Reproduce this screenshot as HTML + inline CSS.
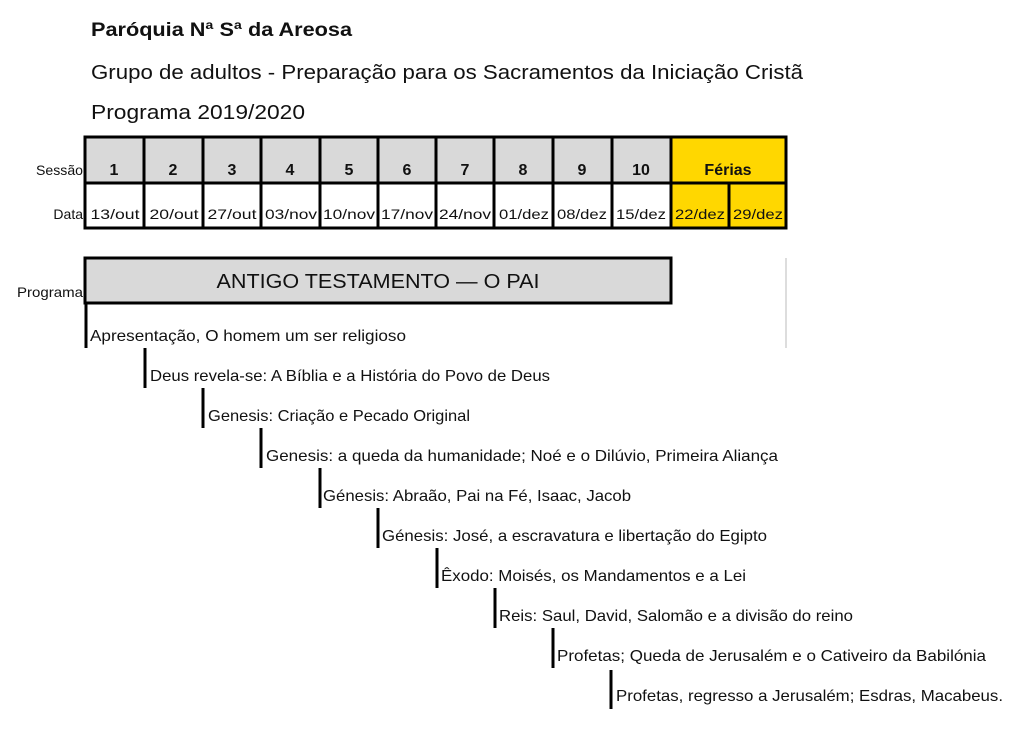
<!DOCTYPE html>
<html><head><meta charset="utf-8"><style>
html,body{margin:0;padding:0;background:#fff;}
svg{display:block;}
text{font-family:"Liberation Sans",sans-serif;fill:#111;}
</style></head><body>
<svg width="1024" height="731" viewBox="0 0 1024 731" xmlns="http://www.w3.org/2000/svg">
<text x="91" y="36" font-size="19" font-weight="bold" textLength="261" lengthAdjust="spacingAndGlyphs">Paróquia Nª Sª da Areosa</text>
<text x="91" y="79" font-size="20" textLength="712" lengthAdjust="spacingAndGlyphs">Grupo de adultos - Preparação para os Sacramentos da Iniciação Cristã</text>
<text x="91" y="119" font-size="20" textLength="214" lengthAdjust="spacingAndGlyphs">Programa 2019/2020</text>

<rect x="85" y="137" width="586" height="46" fill="#d9d9d9"/>
<rect x="671" y="137" width="115" height="91" fill="#ffd700"/>
<g stroke="#000" stroke-width="3" fill="none">
<rect x="85" y="137" width="701" height="91"/>
<line x1="85" y1="183" x2="786" y2="183"/>
<line x1="144" y1="137" x2="144" y2="228"/>
<line x1="203" y1="137" x2="203" y2="228"/>
<line x1="261" y1="137" x2="261" y2="228"/>
<line x1="320" y1="137" x2="320" y2="228"/>
<line x1="378" y1="137" x2="378" y2="228"/>
<line x1="436" y1="137" x2="436" y2="228"/>
<line x1="494" y1="137" x2="494" y2="228"/>
<line x1="553" y1="137" x2="553" y2="228"/>
<line x1="612" y1="137" x2="612" y2="228"/>
<line x1="671" y1="137" x2="671" y2="228"/>
<line x1="729" y1="183" x2="729" y2="228"/>
</g>
<text x="83" y="175" font-size="14" text-anchor="end" textLength="47" lengthAdjust="spacingAndGlyphs">Sessão</text>
<text x="83" y="219" font-size="14" text-anchor="end">Data</text>
<g font-size="16" font-weight="bold" text-anchor="middle">
<text x="114" y="175">1</text><text x="173" y="175">2</text><text x="232" y="175">3</text>
<text x="290" y="175">4</text><text x="349" y="175">5</text><text x="407" y="175">6</text>
<text x="465" y="175">7</text><text x="523" y="175">8</text><text x="582" y="175">9</text>
<text x="641" y="175">10</text><text x="728" y="175">Férias</text>
</g>
<g font-size="14" text-anchor="middle">
<text x="115" y="219" textLength="49" lengthAdjust="spacingAndGlyphs">13/out</text><text x="174" y="219" textLength="49" lengthAdjust="spacingAndGlyphs">20/out</text><text x="232" y="219" textLength="49" lengthAdjust="spacingAndGlyphs">27/out</text>
<text x="291" y="219" textLength="52" lengthAdjust="spacingAndGlyphs">03/nov</text><text x="349" y="219" textLength="52" lengthAdjust="spacingAndGlyphs">10/nov</text><text x="407" y="219" textLength="52" lengthAdjust="spacingAndGlyphs">17/nov</text>
<text x="465" y="219" textLength="52" lengthAdjust="spacingAndGlyphs">24/nov</text><text x="524" y="219" textLength="50" lengthAdjust="spacingAndGlyphs">01/dez</text><text x="582" y="219" textLength="50" lengthAdjust="spacingAndGlyphs">08/dez</text>
<text x="641" y="219" textLength="50" lengthAdjust="spacingAndGlyphs">15/dez</text><text x="700" y="219" textLength="50" lengthAdjust="spacingAndGlyphs">22/dez</text><text x="758" y="219" textLength="50" lengthAdjust="spacingAndGlyphs">29/dez</text>
</g>

<rect x="85" y="258" width="586" height="45" fill="#d9d9d9" stroke="#000" stroke-width="3"/>
<text x="378" y="288" font-size="20" text-anchor="middle" textLength="323" lengthAdjust="spacingAndGlyphs">ANTIGO TESTAMENTO — O  PAI</text>
<text x="83" y="297" font-size="14" text-anchor="end" textLength="66" lengthAdjust="spacingAndGlyphs">Programa</text>
<line x1="786" y1="258" x2="786" y2="348" stroke="#bbb" stroke-width="1"/>

<g stroke="#000" stroke-width="3">
<line x1="86" y1="303" x2="86" y2="348"/>
<line x1="145" y1="348" x2="145" y2="388"/>
<line x1="203" y1="388" x2="203" y2="428"/>
<line x1="261" y1="428" x2="261" y2="468"/>
<line x1="320" y1="468" x2="320" y2="508"/>
<line x1="378" y1="508" x2="378" y2="548"/>
<line x1="437" y1="548" x2="437" y2="588"/>
<line x1="495" y1="588" x2="495" y2="628"/>
<line x1="553" y1="628" x2="553" y2="668"/>
<line x1="611" y1="670" x2="611" y2="709"/>
</g>
<g font-size="16">
<text x="90" y="341" textLength="316" lengthAdjust="spacingAndGlyphs">Apresentação, O homem um ser religioso</text>
<text x="150" y="381" textLength="400" lengthAdjust="spacingAndGlyphs">Deus revela-se: A Bíblia e a História do Povo de Deus</text>
<text x="208" y="421" textLength="262" lengthAdjust="spacingAndGlyphs">Genesis: Criação e Pecado Original</text>
<text x="266" y="461" textLength="512" lengthAdjust="spacingAndGlyphs">Genesis: a queda da humanidade; Noé e o Dilúvio, Primeira Aliança</text>
<text x="323" y="501" textLength="308" lengthAdjust="spacingAndGlyphs">Génesis: Abraão, Pai na Fé, Isaac, Jacob</text>
<text x="382" y="541" textLength="385" lengthAdjust="spacingAndGlyphs">Génesis: José, a escravatura e libertação do Egipto</text>
<text x="441" y="581" textLength="305" lengthAdjust="spacingAndGlyphs">Êxodo: Moisés, os Mandamentos e a Lei</text>
<text x="499" y="621" textLength="354" lengthAdjust="spacingAndGlyphs">Reis: Saul, David, Salomão e a divisão do reino</text>
<text x="557" y="661" textLength="429" lengthAdjust="spacingAndGlyphs">Profetas; Queda de Jerusalém e o Cativeiro da Babilónia</text>
<text x="616" y="701" textLength="387" lengthAdjust="spacingAndGlyphs">Profetas,  regresso a Jerusalém; Esdras, Macabeus.</text>
</g>
</svg>
</body></html>
